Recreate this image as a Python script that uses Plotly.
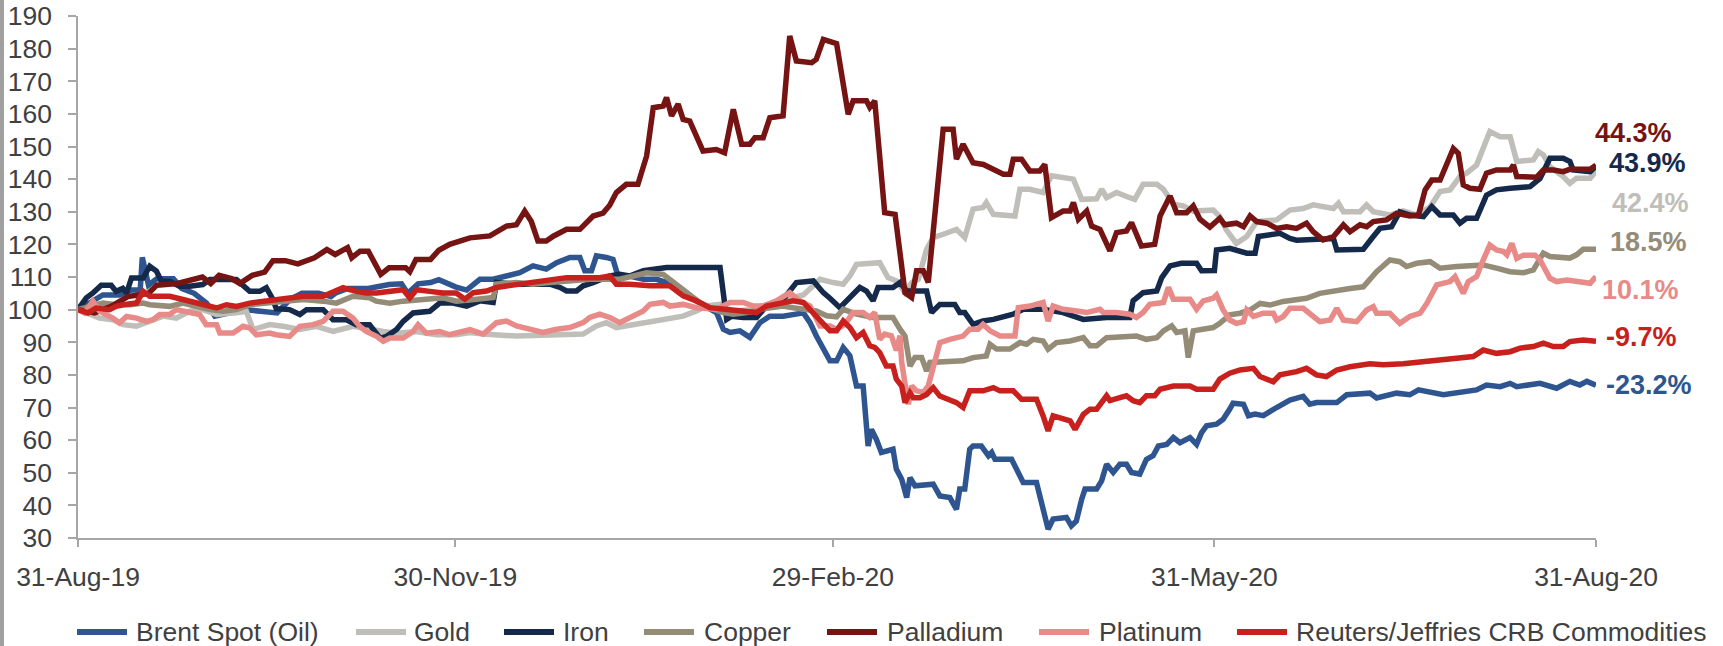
import pandas as pd
import plotly.graph_objects as go

# ---------------- data ----------------
START = "2019-08-31"
END = "2020-08-31"
TICK_DATES = ["2019-08-31", "2019-11-30", "2020-02-29", "2020-05-31", "2020-08-31"]
Y_TICKS = list(range(30, 191, 10))

SERIES_NAMES = ["Brent Spot (Oil)", "Gold", "Iron", "Copper", "Palladium", "Platinum",
                "Reuters/Jeffries CRB Commodities"]

# (days since 31-Aug-19, index level)
BRENT = [(0,100),(3,102.5),(6,104.5),(10,104.5),(13,106),(15,106),(15.5,116),(17,107.5),(19,109.5),(23,109.5),(25,106.5),(28,105),(31,102),(33,98),(36,99),(40,100),(44,99.5),(48,99),(51,103),(54,105),(58,105),(61,104),(62,105),(65,106.5),(70,106.5),(75,107.7),(78,107.9),(79.5,105),(82,107.9),(85,108.3),(87,109.2),(91,107),(93.7,106),(94.5,106.7),(96.9,109.3),(100.1,109.3),(103.3,110.3),(106.5,111.3),(109.7,113.4),(112.9,112.4),(115.4,114.4),(118.6,116),(121,116),(122.2,111.9),(123.8,111.9),(125,116.5),(127.4,116),(129,115.4),(130.2,110.3),(133,110.3),(136.3,109.3),(139.5,109.3),(141.9,108.3),(145.1,105.2),(148.3,103.2),(152.3,100.1),(154,99),(155.6,94),(157.2,93),(159.6,93.5),(162,91.5),(164.4,96),(166.8,98),(170,98),(174.9,99),(176.5,96),(178,92),(181.3,84.3),(182.9,84.3),(184.5,88.4),(186.1,85.9),(187.7,76.6),(189.3,76.6),(190.5,58.2),(191.3,63.3),(192.5,60.2),(193.7,56.2),(196.5,57.2),(197.3,51.1),(198.6,48),(199.8,42.4),(200.6,48.5),(201.8,46),(206.2,46.5),(207.8,42.9),(210.2,42.4),(211.8,38.8),(212.6,45),(213.8,45),(215,57.2),(215.8,58.2),(217.8,58.2),(219.5,55.2),(220.3,56.2),(221.1,54.1),(225.1,54.1),(226.3,51.1),(227.9,47),(231.1,47),(232.7,38.8),(233.9,32.7),(235.1,35.8),(238.3,36.3),(239.5,33.7),(240.7,35.2),(242,41.9),(242.8,45),(245.6,45),(246.8,47.5),(248,52.6),(249.6,50.1),(251.2,52.6),(252.8,52.6),(254,50.1),(256,49.6),(257.6,54.1),(259.2,55.2),(260.5,58.2),(262.5,58.7),(264.1,60.8),(265.7,59.2),(268.1,60.8),(269.7,58.7),(270.9,62.3),(272.1,64.4),(274.5,64.9),(276.1,66.4),(277.7,69.5),(278.5,71.3),(281,71),(282.2,67.5),(283.8,68),(285.8,67.5),(289,70),(292.2,72.3),(295.4,73.4),(297,71),(298.6,71.5),(303.5,71.5),(305.9,73.9),(311.5,74.4),(313.1,72.9),(317.9,74.4),(321.1,73.9),(323.2,75.4),(329.2,73.9),(332.4,74.4),(337.2,75.4),(339.6,76.9),(342.9,76.4),(345.3,77.4),(346.9,76.4),(352.5,77.4),(356.5,75.9),(359.7,78),(362.1,76.9),(363.8,78),(366,76.8)]

GOLD = [(0,100),(2.8,98.5),(5.2,97.4),(8.4,96.9),(10.9,95.4),(14.1,94.9),(17.3,96.4),(20.5,98),(23.7,97.4),(26.9,99.5),(30.1,100),(33.4,98.5),(38.2,99),(40.6,99.5),(42.2,93.9),(46.2,95.4),(49.4,94.9),(53.5,93.9),(57.5,94.9),(61.5,93.3),(66.3,94.9),(70.3,93.9),(73.6,93.3),(76.8,92.8),(81.6,93.3),(86.4,92.3),(91.2,92.3),(94.5,93),(97.7,92.5),(105.7,91.9),(113.8,92.2),(121.8,92.5),(125,95),(127.4,96),(129.8,94.5),(132.2,95),(136.3,96),(141.9,97),(145.9,98),(149.1,99.6),(151.5,101.1),(154.8,101.6),(157.2,99.5),(162,100),(166.8,102),(170,103),(174.9,104.5),(178.9,109.3),(182.1,108.3),(184.5,107.8),(186.1,110.3),(187.7,113.9),(193.3,114.4),(195.3,109.8),(197.4,108.8),(199.4,105.2),(201,108.3),(202.6,109.3),(204.6,118.5),(206.2,122.1),(208.6,123.1),(211.8,124.6),(213.8,122.1),(215.8,130.8),(218.2,131.3),(219,132.8),(220.7,129.2),(225.9,128.7),(227.1,136.9),(229.5,136.9),(232.7,135.9),(234.7,141),(240,140),(242,133.8),(245.6,134),(246.8,136.9),(248,134.3),(250.4,135.9),(253.6,134.3),(254.8,133.8),(256.8,138.4),(260.1,138.4),(261.7,136.9),(264.1,132.3),(266.5,131.8),(268.9,130.2),(273.7,130.5),(275.3,128.5),(276.9,124.4),(279.3,120.3),(281.8,122.4),(284.2,127),(289,127.5),(292.2,130.5),(295.4,131),(297.8,132.1),(302.7,131),(303.9,132.6),(305.1,130),(309.1,130),(310.7,132.1),(312.3,130),(316.3,129),(319.5,130.3),(322.8,129),(326,131.5),(328.4,136.2),(330.8,136.7),(333.2,140.8),(334.8,141.8),(337.2,144.3),(338.8,150),(340.4,154.6),(342.9,153),(345.3,153),(346.9,145.4),(350.9,145.9),(352.1,148.4),(353.3,147.4),(354.9,143.8),(358.1,140.8),(359.7,138.7),(361.3,140.3),(364.6,140.3),(366,142.4)]

IRON = [(0,100),(2,103.6),(3.6,105.1),(5.6,107.5),(8,107.5),(9.2,105.6),(10.8,106.5),(11.7,105.1),(12.9,109.7),(15.7,109.7),(17.3,113.3),(18.9,111.8),(20.1,108.7),(22.1,108.7),(24.5,107.2),(26.9,107.2),(30.1,107.7),(31.8,109.2),(38.2,109.2),(41.4,105.6),(43.8,105.6),(45.4,106.7),(47,103.1),(47.8,100.3),(51,100),(53.5,98.5),(55.1,100),(59.1,100),(61.5,96.9),(64.7,96.9),(67.1,95.4),(70.3,95.4),(72.8,91.3),(74.4,91.8),(76.8,93.9),(78.4,96.4),(80.8,99),(84.8,99.5),(87.2,102),(90.4,102),(93.7,101.1),(96.9,102.7),(100.1,102.2),(100.9,108.3),(105.7,107.8),(113.8,107.8),(116.2,106.8),(117.8,105.7),(120.2,105.7),(121.8,107.3),(124.2,108.3),(128.2,110.3),(130.6,110.8),(133,110.3),(136.3,111.9),(141.9,112.9),(154.8,112.9),(156.4,97),(157.6,98),(160.4,97.6),(163.6,97.6),(166,101.1),(168.8,101.1),(170.8,104.2),(173.2,108.3),(177.3,108.8),(179.7,105.2),(181.3,103.5),(182.9,101.5),(183.7,100.6),(185.3,102.7),(188.5,106.8),(190.1,105.7),(191.7,102.7),(192.9,106.8),(196.5,106.8),(198.2,108.3),(199.8,105.7),(204.6,105.7),(205.8,99.1),(207.8,101.6),(211.4,101.6),(212.6,99.1),(213.8,99.1),(215.8,95.5),(218.2,96.5),(220.7,97),(223.1,97.6),(225.5,98.6),(227.9,100.1),(232.7,100.1),(237.5,99.1),(242.4,97),(248,97.6),(253.6,97.6),(254.4,102.7),(256.8,105.2),(260.1,105.7),(261.3,109.8),(263.3,113.4),(266,114.2),(269.7,114.2),(270.9,111.9),(274,112),(274.5,118.3),(277.7,118.8),(279.3,118.3),(281.8,117.3),(283.8,117.3),(284.6,122.4),(289.8,123.4),(292.2,121.8),(293.8,121.3),(302.7,121.8),(303.5,118.3),(309.9,118.5),(312.3,122.4),(313.9,124.9),(316.7,125.4),(318.7,130),(321.1,129),(324.4,128.5),(326.4,131.6),(328.4,129),(331.6,129),(333.2,126.5),(334.8,128),(337.2,128),(339.6,135.1),(342,136.7),(345.3,137.2),(350.1,137.7),(352.5,140.2),(354.9,146.4),(358.1,146.4),(359.7,145.4),(360.5,142.8),(364.6,142.3),(366,143.9)]

COPPER = [(0,100),(2.8,101),(6,102),(9.2,101.5),(12.5,101.5),(15.7,102),(17.3,101.5),(22.1,101),(25.3,102),(28.5,101),(31.8,100),(35,99.5),(38.2,100),(41.4,101.5),(46.2,102),(50.2,102.6),(54.3,103.1),(59.1,102.6),(62.3,102),(66.3,104.1),(70.3,103.6),(71.9,102.6),(75.2,102),(78.4,102.6),(82.4,103.1),(84.8,103.6),(88,103.6),(91.2,102.6),(92.9,102.7),(96.1,103.2),(100.1,103.7),(100.9,107.8),(105.7,108.3),(109.7,107.8),(113.8,108.3),(117.8,108.8),(123.4,109.3),(130.6,109.3),(134.7,110.3),(137.1,111.3),(141.1,110.8),(142.7,109.3),(145.1,106.8),(147.5,104.7),(149.9,102.2),(153.1,100.1),(155.6,99.1),(158,98.6),(161.2,99.1),(164.4,100.1),(166.8,100.6),(170,101.1),(172.4,100.6),(174.9,100.1),(178,99.6),(180.5,98.1),(182.9,97.8),(184.5,100.1),(187.7,98.6),(191.7,97.6),(196.5,97.6),(198.2,94),(199.4,91.9),(200.6,82.7),(201.8,85.3),(203.4,85.3),(204.6,81.2),(205.4,83.8),(213.4,84.3),(215.8,85.3),(219,85.8),(219.9,89.4),(221.5,87.9),(224.7,87.9),(227.1,89.9),(228.7,89.4),(230.3,90.9),(232.7,90.4),(233.9,87.9),(235.9,89.9),(239.2,90.4),(242.4,91.4),(244,88.9),(245.6,88.9),(248,91.4),(255.2,91.9),(257.6,90.9),(260.1,91.4),(261.7,93.5),(263.7,95),(264.9,93),(266.9,93.5),(267.7,85.3),(268.9,93.5),(271.3,94),(273.7,94.5),(275.3,95.8),(277.7,98.4),(280.2,98.9),(282.6,99.9),(285,101.9),(287.4,101.4),(290.6,102.5),(293,103),(296.2,103.5),(299.4,105),(303.5,106),(306.7,106.5),(309.9,107),(313.1,111.6),(316.3,115.2),(318.7,114.7),(320.3,113.2),(322.8,114.2),(326,114.7),(328.4,112.7),(332.4,113.2),(338.8,113.7),(342,112.7),(345.3,111.6),(348.5,111.3),(350.9,112.2),(353.3,117.3),(354.9,116.3),(359.7,115.8),(361.3,116.8),(362.9,118.5),(366,118.5)]

PALLADIUM = [(0,100),(4,99),(8,101),(12,104),(17,105),(19,107.5),(24,108),(27,109),(30,110),(32,108),(34,110.5),(37,109.5),(39,108),(42,110.5),(45,111.5),(47,115),(50,115),(53,114),(57,115.9),(60,118.4),(62,116.9),(65,119),(66,115.9),(68,117.9),(70,117.9),(73,110.8),(75,112.8),(79,112.8),(80,111.6),(81.5,115.4),(85,115.4),(87,118.2),(89.6,120),(94.5,122),(99.3,122.6),(103.3,125.6),(105.7,126),(107.7,130.2),(109.3,127),(110.9,121),(112.9,121),(114.6,122.5),(117.8,124.6),(121,124.6),(124.2,128.7),(126.6,129.6),(128.2,132),(129.8,135.9),(132.2,138.4),(135,138.4),(137.1,147.1),(138.7,161.9),(141.1,162.4),(141.9,165),(143.1,159.4),(144.7,163),(145.9,158.3),(147.5,157.8),(150.7,148.6),(153.9,149.1),(155.9,148.1),(158,161.4),(160,150.7),(162,150.7),(163.2,152.7),(165.2,152.7),(166.8,158.8),(170,159.4),(171.6,183.9),(173.2,176.2),(176.9,175.7),(178,176.7),(179.7,182.8),(182.9,181.5),(185.7,159.9),(186.9,164),(190.1,164),(190.9,162),(192.1,164),(194.5,129.7),(197,129.2),(199.4,105.2),(201,103.7),(202.2,111.9),(203.8,111.9),(205,108.3),(207,132.8),(208.6,155.3),(211,155.3),(211.8,146.1),(213.4,150.7),(215.8,145),(218.3,144.5),(220.7,143),(223.1,141.5),(224.7,141.5),(225.5,146.1),(227.5,146.1),(229.5,142.5),(231.9,142.5),(233.1,144.5),(234.7,128.2),(237.5,130.2),(239.2,130.2),(240,132.8),(241.2,127.7),(243.2,130.2),(244.4,125.6),(246.4,124.6),(248.8,118),(250.4,123.6),(252.8,124.1),(254,126.7),(256.4,119.5),(259.6,120),(260.9,128.7),(263.3,134.8),(264.9,129.7),(267.3,129.7),(268.9,131.8),(270.5,127.7),(272.9,125.3),(275.3,128),(276.5,126),(279.3,126.5),(281,125.4),(282.6,128.7),(284.2,127),(286.6,126.5),(289,124.9),(291.4,125.4),(293.8,124.9),(296.2,126.5),(297.8,123.9),(300.2,121.4),(302.7,122.4),(305.1,126),(306.7,123.9),(309.1,126),(310.7,125.4),(312.3,127),(315.5,127.5),(317.9,129.5),(321.1,128.7),(323.2,129),(324.8,136.7),(326.4,139.7),(328.4,139.7),(330,144.3),(331.6,149.4),(332.8,147.9),(334,138.2),(335.6,137.2),(338,136.9),(339.6,141.8),(342,142.8),(345.3,142.8),(346.1,144.3),(346.9,140.8),(349.3,140.8),(351.7,140.6),(353.3,142.8),(355.7,142.8),(358.1,142.3),(359.7,143),(364.6,143),(366,144.3)]

PLATINUM = [(0,100),(1.6,99),(3.6,102.6),(5.2,99.5),(8.4,97.4),(10,95.9),(11.7,97.9),(14.1,97.4),(16.5,96.4),(18.1,96.9),(19.7,98.5),(22.1,98.5),(23.7,100),(25.3,99.5),(29.3,98.5),(30.9,95.4),(33.4,95.4),(34.2,92.8),(37.4,92.8),(39.8,94.9),(41.4,94.4),(43,92.3),(46.2,92.8),(47.8,92.3),(51,91.8),(53.5,94.9),(56.7,95.4),(59.1,96.4),(61.5,99.5),(63.9,99.5),(66.3,97.4),(67.9,94.9),(69.5,93.3),(72,91.8),(73.6,90.3),(75.2,91.3),(78.4,91.3),(80.8,93.3),(82,95.4),(84,92.8),(87.2,93.3),(89.6,92.3),(92.8,93.3),(94.5,93.9),(97.7,92.5),(100.9,96),(103.3,96.5),(105.7,95),(108.9,94),(112.1,93),(115.4,94),(118.6,94.5),(121.8,96),(123.4,97.6),(125.8,98.6),(128.2,97.6),(130.6,96),(133,97.6),(136.3,99.6),(137.9,101.6),(141.1,102.2),(142.7,101.1),(145.9,101.6),(149.1,100.6),(153.9,100.1),(157.2,102.2),(160.4,102.2),(162.8,101.1),(165.2,101.1),(168.4,102.7),(171.6,105.2),(174,102.7),(176.5,101.1),(178.9,95),(181.3,95),(182.9,94),(184.9,95.5),(186.9,99.1),(189.3,99.1),(190.9,97.6),(192.1,99.1),(193.3,90.9),(194.5,92.5),(196.1,92),(197.3,87.5),(198.2,92),(198.6,83.8),(200.2,71),(201,76.6),(202.2,75.1),(203.8,74.6),(205,76.6),(206.2,82.7),(207.8,89.9),(210.2,90.9),(213.4,91.9),(215,94),(217,94),(218.2,95.5),(219.9,93.5),(222.3,91.9),(225.9,91.9),(226.7,100.6),(229.5,101.1),(232.7,102.2),(233.9,96.5),(235.1,101.1),(237.5,100.1),(240.8,99.6),(243.2,99.1),(246.4,100.1),(247.2,99.1),(250.4,99.1),(253.6,98.6),(255.2,97.6),(256.8,99.1),(258.4,101.6),(261.7,102.2),(262.9,106.8),(264.1,103.2),(268.1,103.2),(269.7,100.1),(271.3,102.7),(273.7,103.5),(274.5,104.5),(276.1,99.9),(277.7,96.8),(279.3,95.8),(281,96.3),(281.8,99.9),(283.4,97.9),(285.8,98.9),(288.2,98.9),(289,96.8),(290.6,97.9),(292.2,100.4),(295.4,100.4),(297,98.9),(299.4,96.3),(301.9,96.8),(303.5,100.4),(305.1,96.8),(308.3,96.3),(310.7,99.9),(312.3,100.9),(313.1,98.9),(316.3,98.9),(318.7,95.8),(321.1,97.9),(323.6,98.9),(325.2,101.9),(327.6,107.6),(330.8,108.6),(332,110.1),(334,105),(335.2,108.6),(337.2,110.1),(338.8,115.2),(340.4,119.8),(342,118.3),(343.7,117.8),(344.5,116.8),(345.7,120.3),(346.9,115.7),(348.5,116.7),(351.3,116.7),(352.5,115.2),(354.9,109.6),(356.5,108.6),(359,109.1),(361.3,108.6),(364.6,108.1),(366,110.1)]

CRB = [(0,100),(2.4,99),(4.4,100.5),(7.6,100),(9.2,101),(10.9,101.5),(14.1,102),(15.7,105.6),(17.3,104.1),(22.1,104.1),(25.3,103.1),(30.1,101.5),(33.4,100.5),(35.8,101.5),(38.2,101),(41.4,102),(44.6,102.6),(49.4,103.1),(54.3,104.1),(59.1,104.1),(61.5,105.6),(63.9,106.7),(67.1,105.6),(69.5,105.1),(72,105.1),(75.2,105.6),(78.4,106.1),(80,103.6),(81.6,106.1),(84.8,105.6),(88,105.1),(91.2,105.1),(93.3,103.2),(95.3,105.2),(98.5,105.7),(100.9,106.8),(104.1,107.3),(109.7,108.3),(113.8,108.8),(117.8,109.8),(125.8,109.8),(128.2,110.3),(129.8,107.8),(133,107.8),(137.9,107.3),(142.7,107.3),(145.9,104.2),(149.1,102.7),(152.3,100.6),(155.6,100.1),(160.4,99.6),(163.6,99.1),(166,101.1),(170,102.2),(172.4,102.7),(174.9,102.2),(178,98.1),(181.3,93.5),(182.9,93.5),(184.5,96.5),(186.1,94.5),(187.7,91.4),(189.3,93),(190.9,88.9),(192.1,88.4),(193.3,86.8),(194.9,82.7),(196.5,82.7),(197.3,78.7),(198.6,76.6),(199.4,71.5),(200.6,74.5),(201.4,73),(203,73),(204.6,74),(206.2,76.1),(207.8,73.5),(210.2,72.5),(211.8,71.5),(213.4,70),(215,75.1),(218.2,75.1),(220.7,76.1),(222.3,75.1),(225.5,75.1),(227.5,72.5),(231.1,72.5),(232.7,67.4),(233.9,62.8),(235.1,67.4),(237.5,66.4),(239.2,65.9),(240.4,63.3),(242.4,67.9),(244,69.5),(245.6,69.5),(248,73.6),(248.8,72.1),(251.2,73),(252.8,73.6),(254.4,72.1),(256,71.5),(257.6,73.6),(259.6,73.6),(260.9,75.6),(264.1,76.6),(268.1,76.6),(269.7,75.6),(273.7,75.6),(275.3,78.7),(277.7,80.5),(280.2,81.5),(283.4,82),(285,79.5),(288.2,77.9),(289.8,80),(293.8,81),(296.2,82),(298.6,80),(301,79.5),(303.5,81.5),(306.7,82.5),(311.5,83.4),(314.7,83.1),(319.5,83.4),(324.4,84.1),(329.2,84.6),(333.2,85.1),(336.4,85.6),(338.8,87.6),(342,86.6),(345.3,87.1),(347.7,88.2),(350.9,88.7),(353.3,89.7),(355.7,88.7),(358.1,88.7),(359.7,90.2),(362.9,90.7),(366,90.3)]

SERIES_DATA = [BRENT, GOLD, IRON, COPPER, PALLADIUM, PLATINUM, CRB]

# ---------------- style ----------------
COLORS = ["#2E5590", "#BFBEB8", "#15294B", "#958C78", "#751412", "#E88A87", "#C8201D"]
FONT = "Liberation Sans, Arial, sans-serif"
TXT = "#404040"
AXIS = "#A6A6A6"
FS = 26.5
FS_END = 27
W, H = 1723, 646
ML, MR, MT, MB = 78, 127, 16, 108
PW, PH = W - ML - MR, H - MT - MB

# end-label offsets in pixels (x, y)
LABEL_SHIFT = [(8, 0), (14, -32), (11, 3), (12, 7), (-3, 32), (4, -13), (8, 4)]
# legend: line start px and text start px
LEGEND_POS = [(74, 134), (353, 412), (501, 561), (641, 702), (824, 885), (1036, 1097), (1234, 1294)]
LEGEND_Y = 632


def px_x(px):
    return (px - ML) / PW


def px_y(py):
    return (H - MB - py) / PH


start = pd.Timestamp(START)
fig = go.Figure()
for name, data, col in zip(SERIES_NAMES, SERIES_DATA, COLORS):
    days = [d for d, _ in data]
    vals = [v for _, v in data]
    x = start + pd.to_timedelta(days, unit="D")
    fig.add_trace(go.Scatter(x=x, y=vals, mode="lines", name=name,
                             line=dict(color=col, width=5.5), showlegend=False))

annotations = []
shapes = []
for (name, data, col, (dx, dy)) in zip(SERIES_NAMES, SERIES_DATA, COLORS, LABEL_SHIFT):
    first, last = data[0][1], data[-1][1]
    pct = (last / first - 1) * 100
    annotations.append(dict(x=END, y=last, xref="x", yref="y", text="<b>%.1f%%</b>" % pct,
                            showarrow=False, xanchor="left", yanchor="middle",
                            xshift=dx, yshift=dy,
                            font=dict(family=FONT, size=FS_END, color=col)))

for name, col, (lx, tx) in zip(SERIES_NAMES, COLORS, LEGEND_POS):
    shapes.append(dict(type="line", xref="paper", yref="paper",
                       x0=px_x(lx + 3), x1=px_x(lx + 53), y0=px_y(LEGEND_Y), y1=px_y(LEGEND_Y),
                       line=dict(color=col, width=6)))
    annotations.append(dict(x=px_x(tx), y=px_y(LEGEND_Y), xref="paper", yref="paper",
                            text=name, showarrow=False, xanchor="left", yanchor="middle",
                            font=dict(family=FONT, size=FS, color=TXT)))

# grey strip on the left edge of the picture
shapes.append(dict(type="rect", xref="paper", yref="paper", x0=px_x(0), x1=px_x(4),
                   y0=px_y(H), y1=px_y(0), line=dict(width=0), fillcolor="#A0A0A0"))

fig.update_layout(
    width=W, height=H,
    margin=dict(l=ML, r=MR, t=MT, b=MB, pad=0),
    paper_bgcolor="white", plot_bgcolor="white",
    font=dict(family=FONT, size=FS, color=TXT),
    showlegend=False,
    annotations=annotations, shapes=shapes,
    xaxis=dict(type="date", range=[START, END], tickvals=TICK_DATES, tickformat="%d-%b-%y",
               showgrid=False, zeroline=False, showline=True, linecolor=AXIS, linewidth=1.5,
               ticks="outside", ticklen=7, tickwidth=1.5, tickcolor=AXIS,
               tickfont=dict(family=FONT, size=FS, color=TXT), ticklabelstandoff=7,
               automargin=False),
    yaxis=dict(range=[30, 190], tickvals=Y_TICKS, showgrid=False, zeroline=False,
               showline=True, linecolor=AXIS, linewidth=1.5,
               ticks="outside", ticklen=8, tickwidth=1.5, tickcolor=AXIS,
               tickfont=dict(family=FONT, size=FS, color=TXT), ticklabelstandoff=11,
               automargin=False),
)

fig.write_html("out.html", config={"responsive": False, "displayModeBar": False},
               post_script="document.body.style.margin='0';document.body.style.overflow='hidden';")
